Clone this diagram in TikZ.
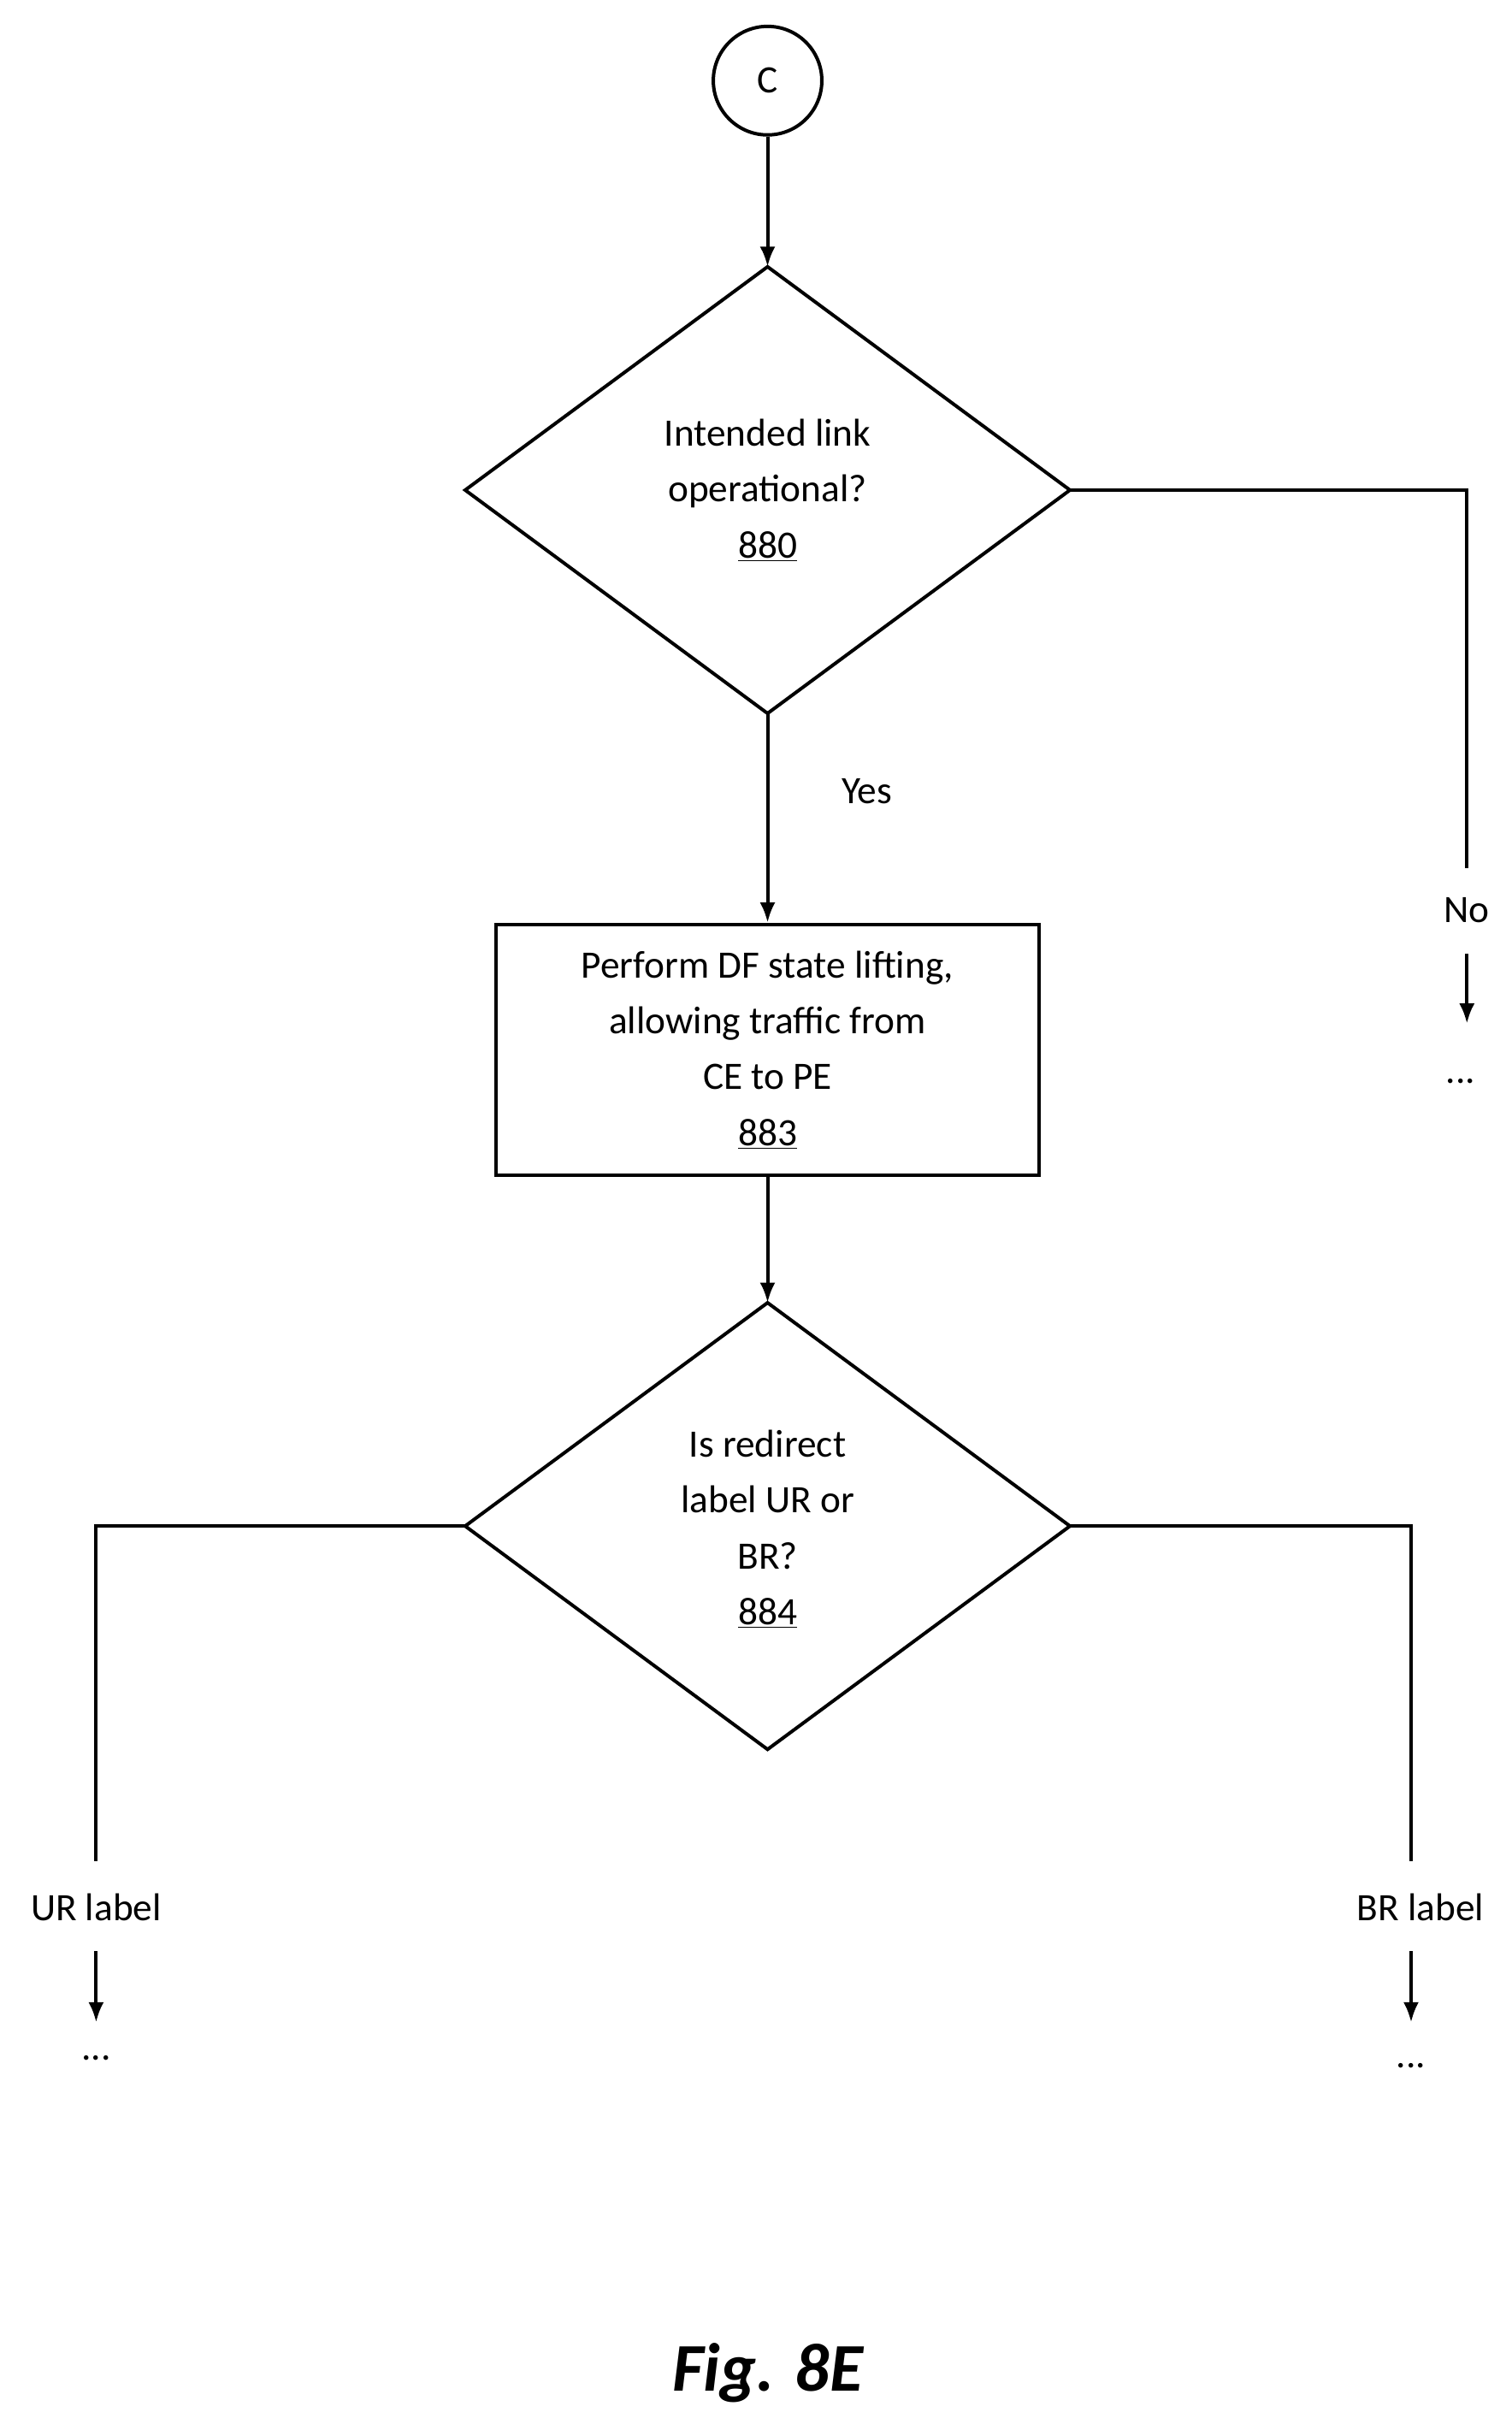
\documentclass[tikz,border=0pt]{standalone}
\usepackage{fontspec}
\setmainfont{Carlito}
\usetikzlibrary{shapes.geometric,arrows.meta}
\begin{document}
\begin{tikzpicture}[x=1pt,y=-1pt,
  ln/.style={line width=2.2pt},
  ar/.style={ln,-{Latex[length=13pt,width=10pt]}},
  txt/.style={font=\fontsize{25}{36}\selectfont,align=center,inner sep=0pt},
  dia/.style={draw,ln,diamond,minimum width=0pt,inner sep=0pt}]
\useasboundingbox (0,0) rectangle (975,1563);
\node[draw,ln,circle,minimum size=70pt,txt] (c) at (495,52) {C};
\draw[ln] (495,172) -- (690,316) -- (495,460) -- (300,316) -- cycle;
\coordinate (d1t) at (495,172); \coordinate (d1b) at (495,460); \coordinate (d1r) at (690,316);
\node[txt] (d1) at (495,316) {Intended link\\operational?\\\underline{880}};
\draw[ar] (c) -- (d1t);
\node[draw,ln,minimum width=350pt,minimum height=162pt,txt] (b) at (495,677) {Perform DF state lifting,\\allowing traffic from\\CE to PE\\\underline{883}};
\draw[ar] (d1b) -- (b.north);
\node[txt] (yes) at (559,510) {Yes};
\coordinate (nc) at (946,560);
\draw[ln] (d1r) -| (nc);
\node[txt] (no) at (946,587) {No};
\coordinate (na) at (946,615); \coordinate (nb) at (946,660);
\draw[ar] (na) -- (nb);
\node[txt] (nd) at (942,697) {...};
\draw[ln] (495,840) -- (690,984) -- (495,1128) -- (300,984) -- cycle;
\coordinate (d2t) at (495,840); \coordinate (d2l) at (300,984); \coordinate (d2r) at (690,984);
\node[txt] (d2) at (495,986) {Is redirect\\label UR or\\BR?\\\underline{884}};
\draw[ar] (b.south) -- (d2t);
\coordinate (ul) at (62,1200); \coordinate (bl) at (910,1200);
\draw[ln] (d2l) -| (ul);
\draw[ln] (d2r) -| (bl);
\node[txt] (ur) at (62,1230) {UR label};
\node[txt] (br) at (916,1230) {BR label};
\coordinate (ua) at (62,1258); \coordinate (ub) at (62,1304);
\coordinate (ba) at (910,1258); \coordinate (bb) at (910,1304);
\draw[ar] (ua) -- (ub);
\draw[ar] (ba) -- (bb);
\node[txt] (ud) at (62,1327) {...};
\node[txt] (bd) at (910,1332) {...};
\node[font=\fontsize{44}{50}\selectfont\bfseries\itshape] (fig) at (495,1530) {Fig. 8E};
\end{tikzpicture}
\end{document}
